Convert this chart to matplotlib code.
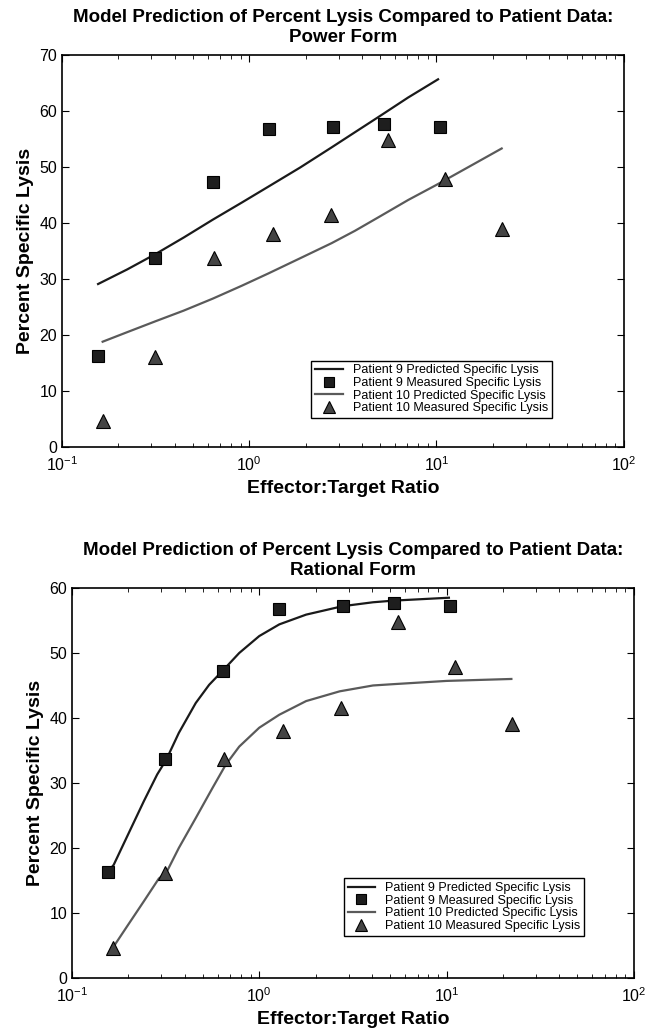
import matplotlib
matplotlib.use("Agg")
import matplotlib.pyplot as plt

plt.rcParams["font.family"] = ["Liberation Sans", "DejaVu Sans"]
plt.rcParams["mathtext.fontset"] = "custom"
plt.rcParams["mathtext.rm"] = "Liberation Sans"

# measured data (same in both panels)
et_p9 = [0.155, 0.313, 0.637, 1.27, 2.79, 5.26, 10.5]
lysis_p9 = [16.3, 33.7, 47.3, 56.8, 57.2, 57.7, 57.2]
et_p10 = [0.166, 0.315, 0.647, 1.34, 2.72, 5.52, 11.07, 22.3]
lysis_p10 = [4.6, 16.1, 33.7, 38.0, 41.5, 54.8, 47.8, 39.0]

# power form model curves
pow_x9 = [0.156, 0.223, 0.316, 0.447, 0.640, 0.914, 1.268, 1.871, 2.757,
          3.67, 4.89, 7.06, 10.2]
pow_y9 = [29.1, 31.7, 34.45, 37.4, 40.6, 43.65, 46.5, 49.9, 53.5,
          56.2, 58.9, 62.4, 65.65]
pow_x10 = [0.165, 0.223, 0.316, 0.447, 0.640, 0.914, 1.268, 1.871, 2.757,
           3.67, 4.89, 7.06, 10.0, 15.6, 22.3]
pow_y10 = [18.8, 20.5, 22.45, 24.35, 26.5, 28.8, 31.0, 33.7, 36.4,
           38.6, 41.0, 44.1, 46.8, 50.4, 53.3]

# rational form model curves
rat_x9 = [0.155, 0.167, 0.201, 0.242, 0.285, 0.319, 0.372, 0.458, 0.540,
          0.644, 0.782, 1.0, 1.28, 1.78, 2.79, 4.05, 5.19, 10.3]
rat_y9 = [16.3, 17.4, 22.3, 27.2, 31.3, 33.6, 37.7, 42.3, 45.1,
          47.4, 50.0, 52.6, 54.4, 55.9, 57.2, 57.8, 58.05, 58.5]
rat_x10 = [0.164, 0.197, 0.242, 0.291, 0.319, 0.372, 0.458, 0.562, 0.662,
           0.782, 1.0, 1.28, 1.78, 2.69, 4.05, 5.19, 10.0, 22.2]
rat_y10 = [4.5, 7.95, 11.8, 15.3, 16.2, 20.0, 24.6, 29.2, 32.8,
           35.6, 38.5, 40.5, 42.6, 44.1, 45.0, 45.2, 45.7, 46.0]

labels = ["Patient 9 Predicted Specific Lysis",
          "Patient 9 Measured Specific Lysis",
          "Patient 10 Predicted Specific Lysis",
          "Patient 10 Measured Specific Lysis"]


def draw_panel(ax, x9, y9, x10, y10, title, ymax, leg_anchor):
    ax.plot(x9, y9, color="#1a1a1a", lw=1.6, label=labels[0])
    ax.plot(et_p9, lysis_p9, ls="none", marker="s", ms=8, mfc="#1e1e1e",
            mec="black", mew=0.8, label=labels[1])
    ax.plot(x10, y10, color="#5a5a5a", lw=1.6, label=labels[2])
    ax.plot(et_p10, lysis_p10, ls="none", marker="^", ms=10.5, mfc="#444444",
            mec="black", mew=0.8, label=labels[3])
    ax.set_xscale("log")
    ax.set_xlim(0.1, 100)
    ax.set_ylim(0, ymax)
    ax.set_yticks(range(0, ymax + 1, 10))
    ax.tick_params(which="both", direction="in", top=True, right=True,
                   labelsize=11.5)
    ax.tick_params(axis="x", which="major", pad=6)
    ax.tick_params(which="major", length=5, width=0.8)
    ax.tick_params(which="minor", length=3, width=0.6)
    for s in ax.spines.values():
        s.set_linewidth(1.2)
    ax.set_title(title, fontsize=13.5, fontweight="bold", pad=9,
                 linespacing=1.3)
    ax.set_xlabel("Effector:Target Ratio", fontsize=14, fontweight="bold",
                  labelpad=4)
    ax.set_ylabel("Percent Specific Lysis", fontsize=14, fontweight="bold",
                  labelpad=4)
    leg = ax.legend(loc="lower left", bbox_to_anchor=leg_anchor,
                    prop={"family": ["Liberation Sans Narrow", "Liberation Sans"],
                          "size": 9},
                    frameon=True, fancybox=False, edgecolor="black",
                    framealpha=1, handlelength=2.2, labelspacing=0.05,
                    borderpad=0.3, handletextpad=0.8, borderaxespad=0,
                    markerscale=0.85)
    leg.get_frame().set_linewidth(1.0)


fig = plt.figure(figsize=(6.45, 10.29), dpi=100)
ax1 = fig.add_axes([0.096, 0.5656, 0.871, 0.381])
ax2 = fig.add_axes([0.1116, 0.0496, 0.871, 0.379])

draw_panel(ax1, pow_x9, pow_y9, pow_x10, pow_y10,
           "Model Prediction of Percent Lysis Compared to Patient Data:\nPower Form",
           70, (0.444, 0.074))
draw_panel(ax2, rat_x9, rat_y9, rat_x10, rat_y10,
           "Model Prediction of Percent Lysis Compared to Patient Data:\nRational Form",
           60, (0.484, 0.108))

fig.savefig("out.png", dpi=100)
